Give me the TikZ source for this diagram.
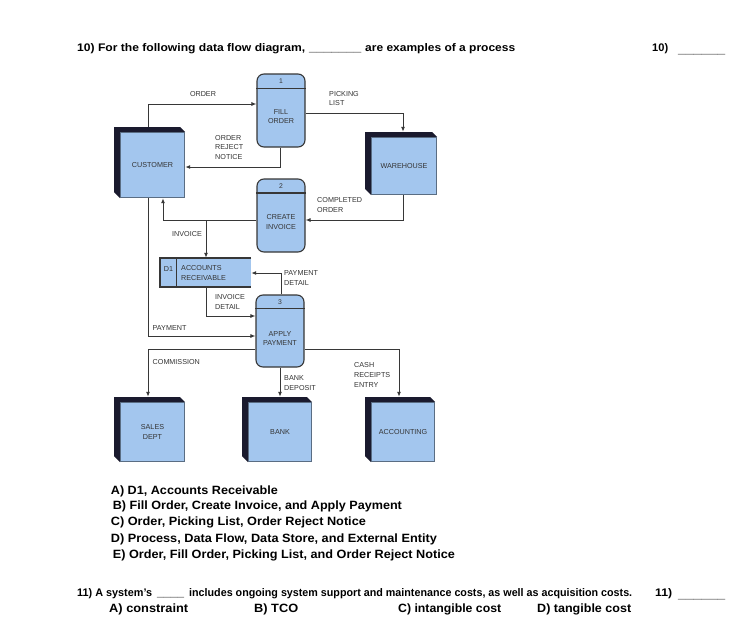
\documentclass[tikz,border=0pt]{standalone}
\usepackage{fontspec}
\usepackage{graphicx}
\setmainfont{Liberation Sans}
\usetikzlibrary{arrows.meta}
\definecolor{eblue}{RGB}{163,198,238}
\definecolor{edark}{RGB}{26,26,46}
\definecolor{lgray}{RGB}{55,55,55}
\definecolor{tgray}{RGB}{52,52,52}
\newcommand\fitw[2]{\resizebox{#1pt}{\height}{\strut #2}}
\begin{document}
\begin{tikzpicture}[x=1pt,y=-1pt,
  flow/.style={draw=lgray, line width=1pt, -{Latex[length=5pt,width=4pt]}},
  lbl/.style={inner sep=0pt, font=\fontsize{7.2}{9.6}\selectfont, text=tgray, align=left},
  etext/.style={inner sep=0pt, font=\fontsize{7.2}{9.6}\selectfont, text=tgray, align=center},
  proc/.style={draw=lgray, line width=1.1pt, fill=eblue, rounded corners=7pt,
    minimum width=48pt, minimum height=73pt, inner sep=0pt},
  pline/.style={draw=lgray, line width=1.1pt},
  pnum/.style={inner sep=0pt, font=\fontsize{6.8}{8}\selectfont, text=tgray},
  entity/.style={inner sep=0pt, path picture={
    \fill[edark] (path picture bounding box.north west)
      -- ([xshift=-5pt]path picture bounding box.north east)
      -- ([yshift=-5pt]path picture bounding box.north east)
      -- ([xshift=6pt,yshift=-5pt]path picture bounding box.north west)
      -- ([xshift=6pt]path picture bounding box.south west)
      -- ([yshift=6pt]path picture bounding box.south west) -- cycle;
    \draw[fill=eblue, draw=eblue!55!black, line width=0.6pt]
      ([xshift=6pt,yshift=-5pt]path picture bounding box.north west)
      rectangle ([xshift=-0.3pt,yshift=0.3pt]path picture bounding box.south east);
  }},
  store/.style={inner sep=0pt, fill=eblue, minimum width=91pt, minimum height=29pt},
  qtext/.style={anchor=base west, inner sep=0pt, font=\bfseries\fontsize{11}{13}\selectfont},
  otext/.style={anchor=base west, inner sep=0pt, font=\bfseries\fontsize{12}{14}\selectfont}
]
\useasboundingbox[fill=white] (0,0) rectangle (739,637);

% ---------- question 10 ----------
\node[qtext] (q10a) at (77,51) {\fitw{228}{10) For the following data flow diagram,}};
\node[qtext] (q10b) at (309,51) {\fitw{52}{\_\_\_\_\_\_\_}};
\node[qtext] (q10c) at (365,51) {\fitw{150}{are examples of a process}};
\node[qtext] (q10n) at (652,51) {\fitw{16}{10)}};
\node[qtext] (q10l) at (678,53) {\fitw{47}{\_\_\_\_\_\_}};

% ---------- entities ----------
\node[entity, minimum width=71pt, minimum height=71pt] (cust) at (149.5,162.5) {};
\node[etext] (custT) at ([xshift=3pt,yshift=-2.5pt]cust.center) {CUSTOMER};
\node[entity, minimum width=72pt, minimum height=63pt] (wh) at (401,163.5) {};
\node[etext] (whT) at ([xshift=3pt,yshift=-2.5pt]wh.center) {WAREHOUSE};
\node[entity, minimum width=71pt, minimum height=65pt] (sales) at (149.5,429.5) {};
\node[etext] (salesT) at ([xshift=3pt,yshift=-2.5pt]sales.center) {SALES\\DEPT};
\node[entity, minimum width=70pt, minimum height=65pt] (bank) at (277,429.5) {};
\node[etext] (bankT) at ([xshift=3pt,yshift=-2.5pt]bank.center) {BANK};
\node[entity, minimum width=70pt, minimum height=65pt] (acct) at (400,429.5) {};
\node[etext] (acctT) at ([xshift=3pt,yshift=-2.5pt]acct.center) {ACCOUNTING};

% ---------- processes ----------
\node[proc] (p1) at (281,110.5) {};
\draw[pline] ([yshift=-15pt]p1.north west) -- ([yshift=-15pt]p1.north east);
\node[pnum] (p1n) at ([yshift=-7.5pt]p1.north) {1};
\node[etext] (p1t) at ([yshift=-6pt]p1.center) {FILL\\ORDER};

\node[proc] (p2) at (281,215.5) {};
\draw[pline] ([yshift=-14.5pt]p2.north west) -- ([yshift=-14.5pt]p2.north east);
\node[pnum] (p2n) at ([yshift=-7.5pt]p2.north) {2};
\node[etext] (p2t) at ([yshift=-6.5pt]p2.center) {CREATE\\INVOICE};

\node[proc, minimum height=72pt] (p3) at (280,331) {};
\draw[pline] ([yshift=-14pt]p3.north west) -- ([yshift=-14pt]p3.north east);
\node[pnum] (p3n) at ([yshift=-7.5pt]p3.north) {3};
\node[etext] (p3t) at ([yshift=-7.5pt]p3.center) {APPLY\\PAYMENT};

% ---------- data store ----------
\node[store] (ds) at (205.5,272.5) {};
\draw[lgray, line width=1.6pt] (ds.north east) -- (ds.north west) -- (ds.south west) -- (ds.south east);
\draw[lgray, line width=1.2pt] ([xshift=17pt]ds.north west) -- ([xshift=17pt]ds.south west);
\node[etext] (dsn) at (168.5,269) {D1};
\node[lbl, anchor=west] (dst) at (181,273.3) {ACCOUNTS\\RECEIVABLE};

% ---------- flows ----------
\coordinate (c1) at (148,104);
\draw[flow] (cust.north -| c1) -- (c1) -- (p1.west |- c1);
\node[lbl] (l1) at (203,94) {ORDER};

\coordinate (c2) at (403,113);
\draw[flow] (p1.east |- c2) -- (c2) -- (wh.north -| c2);
\node[lbl, anchor=west] (l2) at (329,98.5) {PICKING\\LIST};

\coordinate (c3) at (280,167);
\draw[flow] (p1.south -| c3) -- (c3) -- (cust.east |- c3);
\node[lbl, anchor=west] (l3) at (215,147.3) {ORDER\\REJECT\\NOTICE};

\coordinate (c4) at (403,220);
\draw[flow] (wh.south -| c4) -- (c4) -- (p2.east |- c4);
\node[lbl, anchor=west] (l4) at (317,205) {COMPLETED\\ORDER};

\coordinate (c5) at (163,220);
\draw[flow] (p2.west |- c5) -- (c5) -- (cust.south -| c5);
\coordinate (c6) at (206,220);
\draw[flow] (c6) -- (ds.north -| c6);
\node[lbl] (l5) at (187,234) {INVOICE};

\coordinate (c7) at (148,336);
\draw[flow] (cust.south -| c7) -- (c7) -- (p3.west |- c7);
\node[lbl, anchor=west] (l7) at (152.5,327.7) {PAYMENT};

\coordinate (c8) at (206,316);
\draw[flow] (ds.south -| c8) -- (c8) -- (p3.west |- c8);
\node[lbl, anchor=west] (l8) at (215,302) {INVOICE\\DETAIL};

\coordinate (c9) at (281,273);
\draw[flow] (p3.north -| c9) -- (c9) -- (ds.east |- c9);
\node[lbl, anchor=west] (l9) at (284,278) {PAYMENT\\DETAIL};

\coordinate (c10) at (148,349);
\draw[flow] (p3.west |- c10) -- (c10) -- (sales.north -| c10);
\node[lbl, anchor=west] (l10) at (152.5,361.7) {COMMISSION};

\draw[flow] (p3.south) -- (bank.north -| p3.south);
\node[lbl, anchor=west] (l11) at (284,383.3) {BANK\\DEPOSIT};

\coordinate (c12) at (399,349);
\draw[flow] (p3.east |- c12) -- (c12) -- (acct.north -| c12);
\node[lbl, anchor=west] (l12) at (354,375) {CASH\\RECEIPTS\\ENTRY};

% ---------- answers 10 ----------
\node[otext] (oA) at (110.7,494) {\fitw{167}{A) D1, Accounts Receivable}};
\node[otext] (oB) at (112.7,509.3) {\fitw{289}{B) Fill Order, Create Invoice, and Apply Payment}};
\node[otext] (oC) at (110.7,525.7) {\fitw{255}{C) Order, Picking List, Order Reject Notice}};
\node[otext] (oD) at (110.7,542.3) {\fitw{326}{D) Process, Data Flow, Data Store, and External Entity}};
\node[otext] (oE) at (112.7,558.3) {\fitw{342}{E) Order, Fill Order, Picking List, and Order Reject Notice}};

% ---------- question 11 ----------
\node[qtext] (q11a) at (77,596) {\fitw{75}{11) A system’s}};
\node[qtext] (q11b) at (157,596) {\fitw{27}{\_\_\_\_}};
\node[qtext] (q11c) at (189,596) {\fitw{443}{includes ongoing system support and maintenance costs, as well as acquisition costs.}};
\node[qtext] (q11n) at (655,596) {\fitw{17}{11)}};
\node[qtext] (q11l) at (678,598) {\fitw{47}{\_\_\_\_\_\_}};
\node[otext] (pA) at (109,612) {\fitw{79}{A) constraint}};
\node[otext] (pB) at (254,612) {\fitw{44}{B) TCO}};
\node[otext] (pC) at (398,612) {\fitw{103}{C) intangible cost}};
\node[otext] (pD) at (537,612) {\fitw{94}{D) tangible cost}};
\end{tikzpicture}
\end{document}
